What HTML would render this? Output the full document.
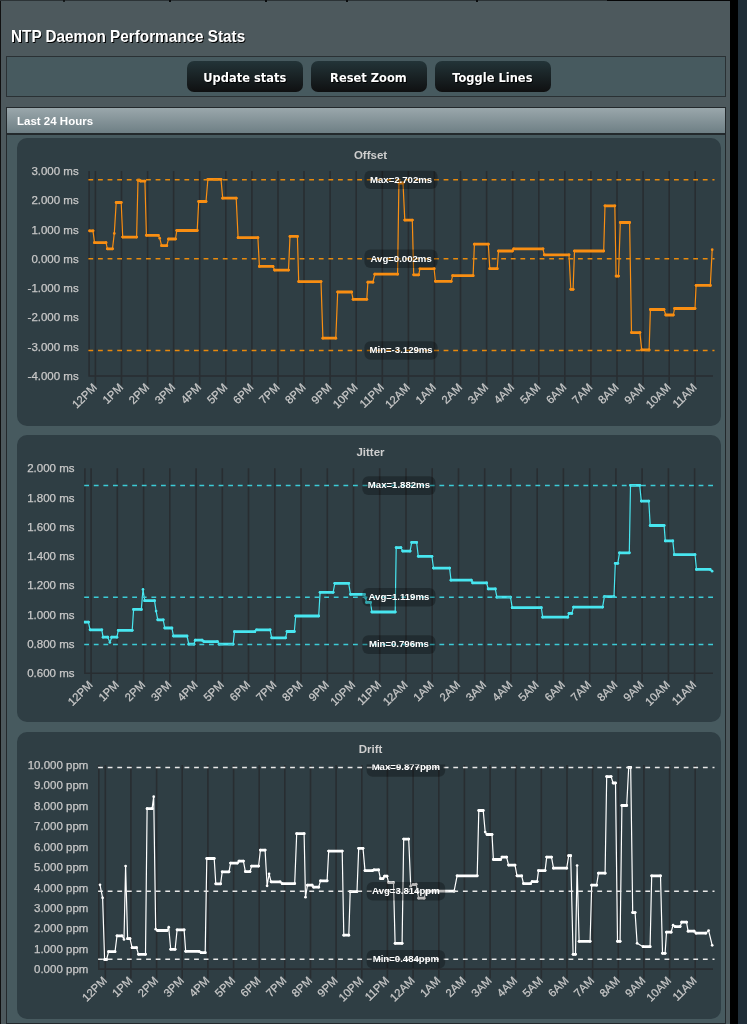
<!DOCTYPE html>
<html><head><meta charset="utf-8"><title>NTP Daemon Performance Stats</title>
<style>
html,body{margin:0;padding:0;}
body{width:747px;height:1024px;overflow:hidden;background:#1f2d37;position:relative;font-family:"Liberation Sans",Arial,sans-serif;}
.abs{position:absolute;}
.btn span{display:inline-block;transform:scaleX(0.972);}
#blk{left:730px;top:0;width:8px;height:1024px;background:#000;}
#panel{left:0;top:0;width:730px;height:1024px;background:#4d595d;border-left:1px solid #111;box-sizing:border-box;}
#topline{left:0;top:0;width:730px;height:1px;background:#2c3336;}
#title{left:11px;top:26.5px;font-size:16.9px;transform:scaleX(0.905);transform-origin:0 0;font-weight:bold;color:#fff;text-shadow:1px 1px 0 #000;white-space:nowrap;}
#bar{left:6px;top:56px;width:720px;height:41px;background:#475a5f;border:1px solid #2a3134;box-sizing:border-box;}
.btn{top:60.5px;width:116.5px;height:31px;border-radius:7px;background:linear-gradient(#233438 0%,#0f1011 100%);color:#fff;
 font-family:"DejaVu Sans",Verdana,sans-serif;font-weight:bold;font-size:11.8px;text-align:center;line-height:34.3px;text-shadow:1px 1px 0 #000;}
#hdr{left:6px;top:106.5px;width:720px;height:28.3px;box-sizing:border-box;border:1px solid #23292c;border-top-width:1.3px;border-bottom-width:2px;
 background:linear-gradient(#9aa7ab 0%,#6e7f85 100%);}
#hdrt{left:17px;top:114.5px;font-size:11.5px;font-weight:bold;color:#fff;white-space:nowrap;}
#body{left:6px;top:134.5px;width:720px;height:889px;background:#475a5f;border-left:1px solid #23292c;border-right:1px solid #23292c;border-bottom:1px solid #23292c;box-sizing:border-box;}
.cbox{left:17px;width:703.5px;background:#2f3e44;border-radius:10px;}
svg{position:absolute;left:0;top:0;}
.ct{font:bold 11.5px "Liberation Sans",Arial,sans-serif;fill:#cfcfcf;}
.yl{font:11.5px "Liberation Sans",Arial,sans-serif;fill:#c8c8c8;stroke:#c8c8c8;stroke-width:0.25px;}
.xl{font:11.3px "Liberation Sans",Arial,sans-serif;fill:#c8c8c8;stroke:#c8c8c8;stroke-width:0.25px;}
.al{font:bold 9.6px "Liberation Sans",Arial,sans-serif;fill:#fff;}
</style></head><body>
<div class="abs" id="panel"></div>
<div class="abs" id="topline"></div>
<div class="abs" style="left:607px;top:0;width:123px;height:1px;background:#050607"></div>
<div class="abs" style="left:63px;top:0;width:2px;height:2px;background:#0a0c0d;border-radius:1px"></div>
<div class="abs" style="left:169px;top:0;width:2px;height:1.5px;background:#0a0c0d"></div>
<div class="abs" style="left:265px;top:0;width:2px;height:1.5px;background:#0a0c0d"></div>
<div class="abs" style="left:346px;top:0;width:2px;height:1.5px;background:#0a0c0d"></div>
<div class="abs" style="left:476px;top:0;width:2px;height:1.5px;background:#0a0c0d"></div>
<div class="abs" id="blk"></div>
<div class="abs" id="title">NTP Daemon Performance Stats</div>
<div class="abs" id="bar"></div>
<div class="abs btn" style="left:186.5px"><span>Update stats</span></div>
<div class="abs btn" style="left:310.5px"><span>Reset Zoom</span></div>
<div class="abs btn" style="left:434.5px"><span>Toggle Lines</span></div>
<div class="abs" id="hdr"></div>
<div class="abs" id="hdrt">Last 24 Hours</div>
<div class="abs" id="body"></div>
<div class="abs cbox" style="top:138px;height:287.6px"></div>
<div class="abs cbox" style="top:435.2px;height:287px"></div>
<div class="abs cbox" style="top:732px;height:286.5px"></div>
<svg width="747" height="1024" viewBox="0 0 747 1024">
<clipPath id="clip0"><rect x="88.1" y="170.5" width="625.9" height="205.5"/></clipPath>
<text x="370.5" y="158.7" class="ct" text-anchor="middle">Offset</text>
<text x="78.7" y="380.0" class="yl" text-anchor="end">-4.000 ms</text>
<text x="78.7" y="350.7" class="yl" text-anchor="end">-3.000 ms</text>
<text x="78.7" y="321.4" class="yl" text-anchor="end">-2.000 ms</text>
<text x="78.7" y="292.1" class="yl" text-anchor="end">-1.000 ms</text>
<text x="78.7" y="262.9" class="yl" text-anchor="end">0.000 ms</text>
<text x="78.7" y="233.6" class="yl" text-anchor="end">1.000 ms</text>
<text x="78.7" y="204.3" class="yl" text-anchor="end">2.000 ms</text>
<text x="78.7" y="175.0" class="yl" text-anchor="end">3.000 ms</text>
<path d="M89.1 171.0V376.0H713.0M95.4 171.0V385.3M121.5 171.0V385.3M147.6 171.0V385.3M173.6 171.0V385.3M199.7 171.0V385.3M225.8 171.0V385.3M251.9 171.0V385.3M278.0 171.0V385.3M304.0 171.0V385.3M330.1 171.0V385.3M356.2 171.0V385.3M382.3 171.0V385.3M408.4 171.0V385.3M434.4 171.0V385.3M460.5 171.0V385.3M486.6 171.0V385.3M512.7 171.0V385.3M538.8 171.0V385.3M564.8 171.0V385.3M590.9 171.0V385.3M617.0 171.0V385.3M643.1 171.0V385.3M669.2 171.0V385.3M695.2 171.0V385.3" stroke="#282d31" stroke-width="1.6" fill="none"/>
<text x="97.7" y="388.2" class="xl" text-anchor="end" transform="rotate(-45 97.7 388.2)">12PM</text>
<text x="123.8" y="388.2" class="xl" text-anchor="end" transform="rotate(-45 123.8 388.2)">1PM</text>
<text x="149.9" y="388.2" class="xl" text-anchor="end" transform="rotate(-45 149.9 388.2)">2PM</text>
<text x="175.9" y="388.2" class="xl" text-anchor="end" transform="rotate(-45 175.9 388.2)">3PM</text>
<text x="202.0" y="388.2" class="xl" text-anchor="end" transform="rotate(-45 202.0 388.2)">4PM</text>
<text x="228.1" y="388.2" class="xl" text-anchor="end" transform="rotate(-45 228.1 388.2)">5PM</text>
<text x="254.2" y="388.2" class="xl" text-anchor="end" transform="rotate(-45 254.2 388.2)">6PM</text>
<text x="280.3" y="388.2" class="xl" text-anchor="end" transform="rotate(-45 280.3 388.2)">7PM</text>
<text x="306.3" y="388.2" class="xl" text-anchor="end" transform="rotate(-45 306.3 388.2)">8PM</text>
<text x="332.4" y="388.2" class="xl" text-anchor="end" transform="rotate(-45 332.4 388.2)">9PM</text>
<text x="358.5" y="388.2" class="xl" text-anchor="end" transform="rotate(-45 358.5 388.2)">10PM</text>
<text x="384.6" y="388.2" class="xl" text-anchor="end" transform="rotate(-45 384.6 388.2)">11PM</text>
<text x="410.7" y="388.2" class="xl" text-anchor="end" transform="rotate(-45 410.7 388.2)">12AM</text>
<text x="436.7" y="388.2" class="xl" text-anchor="end" transform="rotate(-45 436.7 388.2)">1AM</text>
<text x="462.8" y="388.2" class="xl" text-anchor="end" transform="rotate(-45 462.8 388.2)">2AM</text>
<text x="488.9" y="388.2" class="xl" text-anchor="end" transform="rotate(-45 488.9 388.2)">3AM</text>
<text x="515.0" y="388.2" class="xl" text-anchor="end" transform="rotate(-45 515.0 388.2)">4AM</text>
<text x="541.1" y="388.2" class="xl" text-anchor="end" transform="rotate(-45 541.1 388.2)">5AM</text>
<text x="567.1" y="388.2" class="xl" text-anchor="end" transform="rotate(-45 567.1 388.2)">6AM</text>
<text x="593.2" y="388.2" class="xl" text-anchor="end" transform="rotate(-45 593.2 388.2)">7AM</text>
<text x="619.3" y="388.2" class="xl" text-anchor="end" transform="rotate(-45 619.3 388.2)">8AM</text>
<text x="645.4" y="388.2" class="xl" text-anchor="end" transform="rotate(-45 645.4 388.2)">9AM</text>
<text x="671.5" y="388.2" class="xl" text-anchor="end" transform="rotate(-45 671.5 388.2)">10AM</text>
<text x="697.5" y="388.2" class="xl" text-anchor="end" transform="rotate(-45 697.5 388.2)">11AM</text>
<g clip-path="url(#clip0)">
<polyline points="89.6,230.8 93.0,230.8 94.5,242.7 106.0,242.7 107.4,248.8 112.5,248.8 114.3,233.4 116.2,202.5 121.2,202.5 122.7,237.1 136.6,237.1 138.0,180.2 139.3,180.2 140.5,181.1 144.9,181.1 146.4,235.3 158.3,235.3 159.7,238.2 161.6,245.7 166.8,245.7 168.5,239.0 175.5,239.0 176.8,230.5 197.2,230.5 198.7,201.5 206.0,201.5 207.9,179.3 221.0,179.3 222.7,198.2 236.2,198.2 238.1,237.7 257.9,237.7 259.4,266.4 273.0,266.4 274.6,270.1 288.5,270.1 290.0,236.4 297.4,236.4 298.7,281.6 321.0,281.6 322.9,338.2 335.8,338.2 337.7,292.0 351.6,292.0 353.1,299.3 366.8,299.3 367.9,282.2 372.9,282.2 374.8,274.2 397.6,274.2 398.9,183.0 403.0,183.0 404.8,220.1 412.3,220.1 413.7,274.8 418.7,274.8 420.0,268.7 434.1,268.7 435.4,281.3 451.2,281.3 452.7,275.7 473.1,275.7 474.4,244.2 488.3,244.2 489.8,268.7 497.2,268.7 498.5,251.0 512.4,251.0 513.7,248.8 543.0,248.8 544.3,254.8 569.0,254.8 570.8,289.3 573.1,289.3 574.5,251.0 603.7,251.0 605.0,205.8 614.8,205.8 616.1,276.1 618.5,276.1 620.3,222.5 629.6,222.5 631.5,332.6 639.9,332.6 641.7,349.9 649.1,349.9 650.4,309.5 664.0,309.5 665.8,315.0 673.3,315.0 674.6,308.5 695.0,308.5 696.1,285.4 710.3,285.4 712.2,249.7" fill="none" stroke="#f98e12" stroke-width="1.2" stroke-linejoin="round"/>
<path d="M89.6 230.8H93.0M94.5 242.7H106.0M107.4 248.8H112.5M116.2 202.5H121.2M122.7 237.1H136.6M138.0 180.2H139.3M140.5 181.1H144.9M146.4 235.3H158.3M161.6 245.7H166.8M168.5 239.0H175.5M176.8 230.5H197.2M198.7 201.5H206.0M207.9 179.3H221.0M222.7 198.2H236.2M238.1 237.7H257.9M259.4 266.4H273.0M274.6 270.1H288.5M290.0 236.4H297.4M298.7 281.6H321.0M322.9 338.2H335.8M337.7 292.0H351.6M353.1 299.3H366.8M367.9 282.2H372.9M374.8 274.2H397.6M398.9 183.0H403.0M404.8 220.1H412.3M413.7 274.8H418.7M420.0 268.7H434.1M435.4 281.3H451.2M452.7 275.7H473.1M474.4 244.2H488.3M489.8 268.7H497.2M498.5 251.0H512.4M513.7 248.8H543.0M544.3 254.8H569.0M570.8 289.3H573.1M574.5 251.0H603.7M605.0 205.8H614.8M616.1 276.1H618.5M620.3 222.5H629.6M631.5 332.6H639.9M641.7 349.9H649.1M650.4 309.5H664.0M665.8 315.0H673.3M674.6 308.5H695.0M696.1 285.4H710.3" fill="none" stroke="#f98e12" stroke-width="2.8" stroke-linecap="round"/>
<g fill="#f98e12"><circle cx="89.6" cy="230.8" r="1.35"/><circle cx="93.0" cy="230.8" r="1.35"/><circle cx="94.5" cy="242.7" r="1.35"/><circle cx="106.0" cy="242.7" r="1.35"/><circle cx="107.4" cy="248.8" r="1.35"/><circle cx="112.5" cy="248.8" r="1.35"/><circle cx="114.3" cy="233.4" r="1.35"/><circle cx="116.2" cy="202.5" r="1.35"/><circle cx="121.2" cy="202.5" r="1.35"/><circle cx="122.7" cy="237.1" r="1.35"/><circle cx="136.6" cy="237.1" r="1.35"/><circle cx="138.0" cy="180.2" r="1.35"/><circle cx="139.3" cy="180.2" r="1.35"/><circle cx="140.5" cy="181.1" r="1.35"/><circle cx="144.9" cy="181.1" r="1.35"/><circle cx="146.4" cy="235.3" r="1.35"/><circle cx="158.3" cy="235.3" r="1.35"/><circle cx="159.7" cy="238.2" r="1.35"/><circle cx="161.6" cy="245.7" r="1.35"/><circle cx="166.8" cy="245.7" r="1.35"/><circle cx="168.5" cy="239.0" r="1.35"/><circle cx="175.5" cy="239.0" r="1.35"/><circle cx="176.8" cy="230.5" r="1.35"/><circle cx="197.2" cy="230.5" r="1.35"/><circle cx="198.7" cy="201.5" r="1.35"/><circle cx="206.0" cy="201.5" r="1.35"/><circle cx="207.9" cy="179.3" r="1.35"/><circle cx="221.0" cy="179.3" r="1.35"/><circle cx="222.7" cy="198.2" r="1.35"/><circle cx="236.2" cy="198.2" r="1.35"/><circle cx="238.1" cy="237.7" r="1.35"/><circle cx="257.9" cy="237.7" r="1.35"/><circle cx="259.4" cy="266.4" r="1.35"/><circle cx="273.0" cy="266.4" r="1.35"/><circle cx="274.6" cy="270.1" r="1.35"/><circle cx="288.5" cy="270.1" r="1.35"/><circle cx="290.0" cy="236.4" r="1.35"/><circle cx="297.4" cy="236.4" r="1.35"/><circle cx="298.7" cy="281.6" r="1.35"/><circle cx="321.0" cy="281.6" r="1.35"/><circle cx="322.9" cy="338.2" r="1.35"/><circle cx="335.8" cy="338.2" r="1.35"/><circle cx="337.7" cy="292.0" r="1.35"/><circle cx="351.6" cy="292.0" r="1.35"/><circle cx="353.1" cy="299.3" r="1.35"/><circle cx="366.8" cy="299.3" r="1.35"/><circle cx="367.9" cy="282.2" r="1.35"/><circle cx="372.9" cy="282.2" r="1.35"/><circle cx="374.8" cy="274.2" r="1.35"/><circle cx="397.6" cy="274.2" r="1.35"/><circle cx="398.9" cy="183.0" r="1.35"/><circle cx="403.0" cy="183.0" r="1.35"/><circle cx="404.8" cy="220.1" r="1.35"/><circle cx="412.3" cy="220.1" r="1.35"/><circle cx="413.7" cy="274.8" r="1.35"/><circle cx="418.7" cy="274.8" r="1.35"/><circle cx="420.0" cy="268.7" r="1.35"/><circle cx="434.1" cy="268.7" r="1.35"/><circle cx="435.4" cy="281.3" r="1.35"/><circle cx="451.2" cy="281.3" r="1.35"/><circle cx="452.7" cy="275.7" r="1.35"/><circle cx="473.1" cy="275.7" r="1.35"/><circle cx="474.4" cy="244.2" r="1.35"/><circle cx="488.3" cy="244.2" r="1.35"/><circle cx="489.8" cy="268.7" r="1.35"/><circle cx="497.2" cy="268.7" r="1.35"/><circle cx="498.5" cy="251.0" r="1.35"/><circle cx="512.4" cy="251.0" r="1.35"/><circle cx="513.7" cy="248.8" r="1.35"/><circle cx="543.0" cy="248.8" r="1.35"/><circle cx="544.3" cy="254.8" r="1.35"/><circle cx="569.0" cy="254.8" r="1.35"/><circle cx="570.8" cy="289.3" r="1.35"/><circle cx="573.1" cy="289.3" r="1.35"/><circle cx="574.5" cy="251.0" r="1.35"/><circle cx="603.7" cy="251.0" r="1.35"/><circle cx="605.0" cy="205.8" r="1.35"/><circle cx="614.8" cy="205.8" r="1.35"/><circle cx="616.1" cy="276.1" r="1.35"/><circle cx="618.5" cy="276.1" r="1.35"/><circle cx="620.3" cy="222.5" r="1.35"/><circle cx="629.6" cy="222.5" r="1.35"/><circle cx="631.5" cy="332.6" r="1.35"/><circle cx="639.9" cy="332.6" r="1.35"/><circle cx="641.7" cy="349.9" r="1.35"/><circle cx="649.1" cy="349.9" r="1.35"/><circle cx="650.4" cy="309.5" r="1.35"/><circle cx="664.0" cy="309.5" r="1.35"/><circle cx="665.8" cy="315.0" r="1.35"/><circle cx="673.3" cy="315.0" r="1.35"/><circle cx="674.6" cy="308.5" r="1.35"/><circle cx="695.0" cy="308.5" r="1.35"/><circle cx="696.1" cy="285.4" r="1.35"/><circle cx="710.3" cy="285.4" r="1.35"/><circle cx="712.2" cy="249.7" r="1.35"/></g>
</g>
<line x1="88.4" y1="179.7" x2="714.5" y2="179.7" stroke="#e8890c" stroke-width="1.5" stroke-dasharray="4.8 4.8"/>
<line x1="88.4" y1="258.8" x2="714.5" y2="258.8" stroke="#e8890c" stroke-width="1.5" stroke-dasharray="4.8 4.8"/>
<line x1="88.4" y1="350.5" x2="714.5" y2="350.5" stroke="#e8890c" stroke-width="1.5" stroke-dasharray="4.8 4.8"/>
<g clip-path="url(#clip0)"><rect x="364.4" y="170.4" width="73.2" height="18.6" rx="6" fill="rgba(0,0,0,0.28)"/><text x="401.1" y="182.5" class="al" text-anchor="middle">Max=2.702ms</text></g>
<g clip-path="url(#clip0)"><rect x="364.4" y="249.5" width="73.2" height="18.6" rx="6" fill="rgba(0,0,0,0.28)"/><text x="401.1" y="261.6" class="al" text-anchor="middle">Avg=0.002ms</text></g>
<g clip-path="url(#clip0)"><rect x="364.4" y="341.2" width="73.2" height="18.6" rx="6" fill="rgba(0,0,0,0.28)"/><text x="401.1" y="353.3" class="al" text-anchor="middle">Min=-3.129ms</text></g>
<clipPath id="clip1"><rect x="83.9" y="467.8" width="630.1" height="205.5"/></clipPath>
<text x="370.5" y="456.0" class="ct" text-anchor="middle">Jitter</text>
<text x="74.5" y="677.3" class="yl" text-anchor="end">0.600 ms</text>
<text x="74.5" y="648.0" class="yl" text-anchor="end">0.800 ms</text>
<text x="74.5" y="618.7" class="yl" text-anchor="end">1.000 ms</text>
<text x="74.5" y="589.4" class="yl" text-anchor="end">1.200 ms</text>
<text x="74.5" y="560.2" class="yl" text-anchor="end">1.400 ms</text>
<text x="74.5" y="530.9" class="yl" text-anchor="end">1.600 ms</text>
<text x="74.5" y="501.6" class="yl" text-anchor="end">1.800 ms</text>
<text x="74.5" y="472.3" class="yl" text-anchor="end">2.000 ms</text>
<path d="M84.9 468.3V673.3H713.0M91.1 468.3V682.6M117.3 468.3V682.6M143.6 468.3V682.6M169.8 468.3V682.6M196.1 468.3V682.6M222.3 468.3V682.6M248.5 468.3V682.6M274.8 468.3V682.6M301.0 468.3V682.6M327.3 468.3V682.6M353.5 468.3V682.6M379.7 468.3V682.6M406.0 468.3V682.6M432.2 468.3V682.6M458.5 468.3V682.6M484.7 468.3V682.6M510.9 468.3V682.6M537.2 468.3V682.6M563.4 468.3V682.6M589.7 468.3V682.6M615.9 468.3V682.6M642.1 468.3V682.6M668.4 468.3V682.6M694.6 468.3V682.6" stroke="#282d31" stroke-width="1.6" fill="none"/>
<text x="93.4" y="685.5" class="xl" text-anchor="end" transform="rotate(-45 93.4 685.5)">12PM</text>
<text x="119.6" y="685.5" class="xl" text-anchor="end" transform="rotate(-45 119.6 685.5)">1PM</text>
<text x="145.9" y="685.5" class="xl" text-anchor="end" transform="rotate(-45 145.9 685.5)">2PM</text>
<text x="172.1" y="685.5" class="xl" text-anchor="end" transform="rotate(-45 172.1 685.5)">3PM</text>
<text x="198.4" y="685.5" class="xl" text-anchor="end" transform="rotate(-45 198.4 685.5)">4PM</text>
<text x="224.6" y="685.5" class="xl" text-anchor="end" transform="rotate(-45 224.6 685.5)">5PM</text>
<text x="250.8" y="685.5" class="xl" text-anchor="end" transform="rotate(-45 250.8 685.5)">6PM</text>
<text x="277.1" y="685.5" class="xl" text-anchor="end" transform="rotate(-45 277.1 685.5)">7PM</text>
<text x="303.3" y="685.5" class="xl" text-anchor="end" transform="rotate(-45 303.3 685.5)">8PM</text>
<text x="329.6" y="685.5" class="xl" text-anchor="end" transform="rotate(-45 329.6 685.5)">9PM</text>
<text x="355.8" y="685.5" class="xl" text-anchor="end" transform="rotate(-45 355.8 685.5)">10PM</text>
<text x="382.0" y="685.5" class="xl" text-anchor="end" transform="rotate(-45 382.0 685.5)">11PM</text>
<text x="408.3" y="685.5" class="xl" text-anchor="end" transform="rotate(-45 408.3 685.5)">12AM</text>
<text x="434.5" y="685.5" class="xl" text-anchor="end" transform="rotate(-45 434.5 685.5)">1AM</text>
<text x="460.8" y="685.5" class="xl" text-anchor="end" transform="rotate(-45 460.8 685.5)">2AM</text>
<text x="487.0" y="685.5" class="xl" text-anchor="end" transform="rotate(-45 487.0 685.5)">3AM</text>
<text x="513.2" y="685.5" class="xl" text-anchor="end" transform="rotate(-45 513.2 685.5)">4AM</text>
<text x="539.5" y="685.5" class="xl" text-anchor="end" transform="rotate(-45 539.5 685.5)">5AM</text>
<text x="565.7" y="685.5" class="xl" text-anchor="end" transform="rotate(-45 565.7 685.5)">6AM</text>
<text x="592.0" y="685.5" class="xl" text-anchor="end" transform="rotate(-45 592.0 685.5)">7AM</text>
<text x="618.2" y="685.5" class="xl" text-anchor="end" transform="rotate(-45 618.2 685.5)">8AM</text>
<text x="644.4" y="685.5" class="xl" text-anchor="end" transform="rotate(-45 644.4 685.5)">9AM</text>
<text x="670.7" y="685.5" class="xl" text-anchor="end" transform="rotate(-45 670.7 685.5)">10AM</text>
<text x="696.9" y="685.5" class="xl" text-anchor="end" transform="rotate(-45 696.9 685.5)">11AM</text>
<g clip-path="url(#clip1)">
<polyline points="84.9,622.1 88.4,622.1 90.1,629.8 101.8,629.8 103.1,637.2 107.8,637.2 109.9,642.5 111.7,637.2 116.9,637.2 118.3,630.3 132.2,630.3 133.6,609.4 141.3,609.4 143.0,589.4 144.7,600.7 154.5,600.7 156.1,611.1 157.8,619.8 163.2,619.8 164.8,628.0 171.9,628.0 173.5,636.0 187.0,636.0 188.8,644.2 194.0,644.2 195.2,640.2 202.1,640.2 203.8,641.6 217.4,641.6 219.1,644.2 233.1,644.2 234.5,631.7 254.8,631.7 256.6,629.8 270.1,629.8 271.7,637.8 285.6,637.8 287.0,631.5 294.3,631.5 295.7,616.0 318.7,616.0 320.1,592.3 333.1,592.3 334.8,583.3 348.7,583.3 350.5,594.3 364.4,594.3 365.6,598.1 366.6,602.4 370.5,602.4 371.9,612.0 395.2,612.0 396.2,547.6 400.9,547.6 402.7,551.1 410.1,551.1 411.7,542.4 416.6,542.4 418.3,556.3 431.9,556.3 433.5,568.1 449.6,568.1 451.0,580.2 471.3,580.2 472.7,582.9 486.6,582.9 488.2,588.9 495.3,588.9 496.9,597.2 510.5,597.2 512.2,607.7 541.3,607.7 542.7,617.2 567.8,617.2 569.0,613.4 571.8,613.4 573.6,607.1 602.6,607.1 604.4,596.7 614.0,596.7 615.3,563.3 617.8,563.3 619.5,552.8 629.3,552.8 630.5,485.3 639.7,485.3 641.3,501.1 648.8,501.1 650.2,525.5 664.1,525.5 665.3,540.9 672.8,540.9 674.3,554.7 695.0,554.7 696.5,569.4 710.1,569.4 712.1,571.2" fill="none" stroke="#48e6f0" stroke-width="1.2" stroke-linejoin="round"/>
<path d="M84.9 622.1H88.4M90.1 629.8H101.8M103.1 637.2H107.8M111.7 637.2H116.9M118.3 630.3H132.2M133.6 609.4H141.3M144.7 600.7H154.5M157.8 619.8H163.2M164.8 628.0H171.9M173.5 636.0H187.0M188.8 644.2H194.0M195.2 640.2H202.1M203.8 641.6H217.4M219.1 644.2H233.1M234.5 631.7H254.8M256.6 629.8H270.1M271.7 637.8H285.6M287.0 631.5H294.3M295.7 616.0H318.7M320.1 592.3H333.1M334.8 583.3H348.7M350.5 594.3H364.4M366.6 602.4H370.5M371.9 612.0H395.2M396.2 547.6H400.9M402.7 551.1H410.1M411.7 542.4H416.6M418.3 556.3H431.9M433.5 568.1H449.6M451.0 580.2H471.3M472.7 582.9H486.6M488.2 588.9H495.3M496.9 597.2H510.5M512.2 607.7H541.3M542.7 617.2H567.8M569.0 613.4H571.8M573.6 607.1H602.6M604.4 596.7H614.0M615.3 563.3H617.8M619.5 552.8H629.3M630.5 485.3H639.7M641.3 501.1H648.8M650.2 525.5H664.1M665.3 540.9H672.8M674.3 554.7H695.0M696.5 569.4H710.1" fill="none" stroke="#48e6f0" stroke-width="2.8" stroke-linecap="round"/>
<g fill="#48e6f0"><circle cx="84.9" cy="622.1" r="1.35"/><circle cx="88.4" cy="622.1" r="1.35"/><circle cx="90.1" cy="629.8" r="1.35"/><circle cx="101.8" cy="629.8" r="1.35"/><circle cx="103.1" cy="637.2" r="1.35"/><circle cx="107.8" cy="637.2" r="1.35"/><circle cx="109.9" cy="642.5" r="1.35"/><circle cx="111.7" cy="637.2" r="1.35"/><circle cx="116.9" cy="637.2" r="1.35"/><circle cx="118.3" cy="630.3" r="1.35"/><circle cx="132.2" cy="630.3" r="1.35"/><circle cx="133.6" cy="609.4" r="1.35"/><circle cx="141.3" cy="609.4" r="1.35"/><circle cx="143.0" cy="589.4" r="1.35"/><circle cx="144.7" cy="600.7" r="1.35"/><circle cx="154.5" cy="600.7" r="1.35"/><circle cx="156.1" cy="611.1" r="1.35"/><circle cx="157.8" cy="619.8" r="1.35"/><circle cx="163.2" cy="619.8" r="1.35"/><circle cx="164.8" cy="628.0" r="1.35"/><circle cx="171.9" cy="628.0" r="1.35"/><circle cx="173.5" cy="636.0" r="1.35"/><circle cx="187.0" cy="636.0" r="1.35"/><circle cx="188.8" cy="644.2" r="1.35"/><circle cx="194.0" cy="644.2" r="1.35"/><circle cx="195.2" cy="640.2" r="1.35"/><circle cx="202.1" cy="640.2" r="1.35"/><circle cx="203.8" cy="641.6" r="1.35"/><circle cx="217.4" cy="641.6" r="1.35"/><circle cx="219.1" cy="644.2" r="1.35"/><circle cx="233.1" cy="644.2" r="1.35"/><circle cx="234.5" cy="631.7" r="1.35"/><circle cx="254.8" cy="631.7" r="1.35"/><circle cx="256.6" cy="629.8" r="1.35"/><circle cx="270.1" cy="629.8" r="1.35"/><circle cx="271.7" cy="637.8" r="1.35"/><circle cx="285.6" cy="637.8" r="1.35"/><circle cx="287.0" cy="631.5" r="1.35"/><circle cx="294.3" cy="631.5" r="1.35"/><circle cx="295.7" cy="616.0" r="1.35"/><circle cx="318.7" cy="616.0" r="1.35"/><circle cx="320.1" cy="592.3" r="1.35"/><circle cx="333.1" cy="592.3" r="1.35"/><circle cx="334.8" cy="583.3" r="1.35"/><circle cx="348.7" cy="583.3" r="1.35"/><circle cx="350.5" cy="594.3" r="1.35"/><circle cx="364.4" cy="594.3" r="1.35"/><circle cx="365.6" cy="598.1" r="1.35"/><circle cx="366.6" cy="602.4" r="1.35"/><circle cx="370.5" cy="602.4" r="1.35"/><circle cx="371.9" cy="612.0" r="1.35"/><circle cx="395.2" cy="612.0" r="1.35"/><circle cx="396.2" cy="547.6" r="1.35"/><circle cx="400.9" cy="547.6" r="1.35"/><circle cx="402.7" cy="551.1" r="1.35"/><circle cx="410.1" cy="551.1" r="1.35"/><circle cx="411.7" cy="542.4" r="1.35"/><circle cx="416.6" cy="542.4" r="1.35"/><circle cx="418.3" cy="556.3" r="1.35"/><circle cx="431.9" cy="556.3" r="1.35"/><circle cx="433.5" cy="568.1" r="1.35"/><circle cx="449.6" cy="568.1" r="1.35"/><circle cx="451.0" cy="580.2" r="1.35"/><circle cx="471.3" cy="580.2" r="1.35"/><circle cx="472.7" cy="582.9" r="1.35"/><circle cx="486.6" cy="582.9" r="1.35"/><circle cx="488.2" cy="588.9" r="1.35"/><circle cx="495.3" cy="588.9" r="1.35"/><circle cx="496.9" cy="597.2" r="1.35"/><circle cx="510.5" cy="597.2" r="1.35"/><circle cx="512.2" cy="607.7" r="1.35"/><circle cx="541.3" cy="607.7" r="1.35"/><circle cx="542.7" cy="617.2" r="1.35"/><circle cx="567.8" cy="617.2" r="1.35"/><circle cx="569.0" cy="613.4" r="1.35"/><circle cx="571.8" cy="613.4" r="1.35"/><circle cx="573.6" cy="607.1" r="1.35"/><circle cx="602.6" cy="607.1" r="1.35"/><circle cx="604.4" cy="596.7" r="1.35"/><circle cx="614.0" cy="596.7" r="1.35"/><circle cx="615.3" cy="563.3" r="1.35"/><circle cx="617.8" cy="563.3" r="1.35"/><circle cx="619.5" cy="552.8" r="1.35"/><circle cx="629.3" cy="552.8" r="1.35"/><circle cx="630.5" cy="485.3" r="1.35"/><circle cx="639.7" cy="485.3" r="1.35"/><circle cx="641.3" cy="501.1" r="1.35"/><circle cx="648.8" cy="501.1" r="1.35"/><circle cx="650.2" cy="525.5" r="1.35"/><circle cx="664.1" cy="525.5" r="1.35"/><circle cx="665.3" cy="540.9" r="1.35"/><circle cx="672.8" cy="540.9" r="1.35"/><circle cx="674.3" cy="554.7" r="1.35"/><circle cx="695.0" cy="554.7" r="1.35"/><circle cx="696.5" cy="569.4" r="1.35"/><circle cx="710.1" cy="569.4" r="1.35"/><circle cx="712.1" cy="571.2" r="1.35"/></g>
</g>
<line x1="84.2" y1="485.6" x2="714.5" y2="485.6" stroke="#3ccbd6" stroke-width="1.5" stroke-dasharray="4.8 4.8"/>
<line x1="84.2" y1="597.3" x2="714.5" y2="597.3" stroke="#3ccbd6" stroke-width="1.5" stroke-dasharray="4.8 4.8"/>
<line x1="84.2" y1="644.6" x2="714.5" y2="644.6" stroke="#3ccbd6" stroke-width="1.5" stroke-dasharray="4.8 4.8"/>
<g clip-path="url(#clip1)"><rect x="362.3" y="476.3" width="73.2" height="18.6" rx="6" fill="rgba(0,0,0,0.28)"/><text x="398.9" y="488.4" class="al" text-anchor="middle">Max=1.882ms</text></g>
<g clip-path="url(#clip1)"><rect x="362.3" y="588.0" width="73.2" height="18.6" rx="6" fill="rgba(0,0,0,0.28)"/><text x="398.9" y="600.1" class="al" text-anchor="middle">Avg=1.119ms</text></g>
<g clip-path="url(#clip1)"><rect x="362.3" y="635.3" width="73.2" height="18.6" rx="6" fill="rgba(0,0,0,0.28)"/><text x="398.9" y="647.4" class="al" text-anchor="middle">Min=0.796ms</text></g>
<clipPath id="clip2"><rect x="97.8" y="764.5" width="616.2" height="204.6"/></clipPath>
<text x="370.5" y="752.8" class="ct" text-anchor="middle">Drift</text>
<text x="88.4" y="973.1" class="yl" text-anchor="end">0.000 ppm</text>
<text x="88.4" y="952.7" class="yl" text-anchor="end">1.000 ppm</text>
<text x="88.4" y="932.3" class="yl" text-anchor="end">2.000 ppm</text>
<text x="88.4" y="911.9" class="yl" text-anchor="end">3.000 ppm</text>
<text x="88.4" y="891.5" class="yl" text-anchor="end">4.000 ppm</text>
<text x="88.4" y="871.0" class="yl" text-anchor="end">5.000 ppm</text>
<text x="88.4" y="850.6" class="yl" text-anchor="end">6.000 ppm</text>
<text x="88.4" y="830.2" class="yl" text-anchor="end">7.000 ppm</text>
<text x="88.4" y="809.8" class="yl" text-anchor="end">8.000 ppm</text>
<text x="88.4" y="789.4" class="yl" text-anchor="end">9.000 ppm</text>
<text x="88.4" y="769.0" class="yl" text-anchor="end">10.000 ppm</text>
<path d="M98.8 765.0V969.1H713.0M105.3 765.0V978.4M130.9 765.0V978.4M156.6 765.0V978.4M182.2 765.0V978.4M207.9 765.0V978.4M233.6 765.0V978.4M259.2 765.0V978.4M284.8 765.0V978.4M310.5 765.0V978.4M336.1 765.0V978.4M361.8 765.0V978.4M387.4 765.0V978.4M413.1 765.0V978.4M438.8 765.0V978.4M464.4 765.0V978.4M490.1 765.0V978.4M515.7 765.0V978.4M541.3 765.0V978.4M567.0 765.0V978.4M592.6 765.0V978.4M618.3 765.0V978.4M643.9 765.0V978.4M669.6 765.0V978.4M695.2 765.0V978.4" stroke="#282d31" stroke-width="1.6" fill="none"/>
<text x="107.6" y="981.3" class="xl" text-anchor="end" transform="rotate(-45 107.6 981.3)">12PM</text>
<text x="133.2" y="981.3" class="xl" text-anchor="end" transform="rotate(-45 133.2 981.3)">1PM</text>
<text x="158.9" y="981.3" class="xl" text-anchor="end" transform="rotate(-45 158.9 981.3)">2PM</text>
<text x="184.6" y="981.3" class="xl" text-anchor="end" transform="rotate(-45 184.6 981.3)">3PM</text>
<text x="210.2" y="981.3" class="xl" text-anchor="end" transform="rotate(-45 210.2 981.3)">4PM</text>
<text x="235.9" y="981.3" class="xl" text-anchor="end" transform="rotate(-45 235.9 981.3)">5PM</text>
<text x="261.5" y="981.3" class="xl" text-anchor="end" transform="rotate(-45 261.5 981.3)">6PM</text>
<text x="287.1" y="981.3" class="xl" text-anchor="end" transform="rotate(-45 287.1 981.3)">7PM</text>
<text x="312.8" y="981.3" class="xl" text-anchor="end" transform="rotate(-45 312.8 981.3)">8PM</text>
<text x="338.4" y="981.3" class="xl" text-anchor="end" transform="rotate(-45 338.4 981.3)">9PM</text>
<text x="364.1" y="981.3" class="xl" text-anchor="end" transform="rotate(-45 364.1 981.3)">10PM</text>
<text x="389.8" y="981.3" class="xl" text-anchor="end" transform="rotate(-45 389.8 981.3)">11PM</text>
<text x="415.4" y="981.3" class="xl" text-anchor="end" transform="rotate(-45 415.4 981.3)">12AM</text>
<text x="441.1" y="981.3" class="xl" text-anchor="end" transform="rotate(-45 441.1 981.3)">1AM</text>
<text x="466.7" y="981.3" class="xl" text-anchor="end" transform="rotate(-45 466.7 981.3)">2AM</text>
<text x="492.4" y="981.3" class="xl" text-anchor="end" transform="rotate(-45 492.4 981.3)">3AM</text>
<text x="518.0" y="981.3" class="xl" text-anchor="end" transform="rotate(-45 518.0 981.3)">4AM</text>
<text x="543.6" y="981.3" class="xl" text-anchor="end" transform="rotate(-45 543.6 981.3)">5AM</text>
<text x="569.3" y="981.3" class="xl" text-anchor="end" transform="rotate(-45 569.3 981.3)">6AM</text>
<text x="594.9" y="981.3" class="xl" text-anchor="end" transform="rotate(-45 594.9 981.3)">7AM</text>
<text x="620.6" y="981.3" class="xl" text-anchor="end" transform="rotate(-45 620.6 981.3)">8AM</text>
<text x="646.2" y="981.3" class="xl" text-anchor="end" transform="rotate(-45 646.2 981.3)">9AM</text>
<text x="671.9" y="981.3" class="xl" text-anchor="end" transform="rotate(-45 671.9 981.3)">10AM</text>
<text x="697.5" y="981.3" class="xl" text-anchor="end" transform="rotate(-45 697.5 981.3)">11AM</text>
<g clip-path="url(#clip2)">
<polyline points="100.0,884.8 102.6,897.8 104.6,959.5 106.6,959.5 108.6,951.7 115.0,951.7 117.0,935.8 122.0,935.8 124.0,939.5 125.6,866.1 127.6,938.7 130.0,938.7 132.1,947.7 136.5,947.7 138.5,954.3 145.5,954.3 147.1,808.7 152.1,808.7 153.7,796.7 155.7,929.2 157.5,930.5 167.1,930.5 168.7,927.2 170.7,949.3 175.1,949.3 177.1,929.8 184.1,929.8 185.7,951.3 199.1,951.3 201.1,952.7 205.2,952.7 206.8,858.5 214.2,858.5 215.8,883.8 220.6,883.8 222.2,871.8 229.0,871.8 230.6,863.1 237.4,863.1 239.0,861.1 243.4,861.1 245.4,871.6 250.0,871.6 251.6,866.1 258.6,866.1 260.4,850.1 265.1,850.1 267.1,885.8 269.1,873.8 271.1,881.8 280.1,881.8 282.1,883.6 294.7,883.6 296.7,833.7 304.1,833.7 305.5,897.2 307.5,885.2 312.1,885.2 313.7,887.2 318.7,887.2 320.5,880.8 327.1,880.8 328.7,851.1 342.2,851.1 343.8,935.2 348.8,935.2 350.2,891.6 357.0,891.6 358.7,848.3 363.0,848.3 365.0,870.6 372.6,870.6 374.0,869.8 378.6,869.8 380.4,878.6 383.0,878.6 384.6,876.2 387.0,876.2 388.6,882.6 393.5,882.6 395.1,943.3 402.1,943.3 403.7,839.1 408.7,839.1 410.7,886.2 413.1,884.6 416.1,884.2 418.7,898.2 424.1,898.2 426.1,891.2 454.1,891.2 457.1,875.8 477.2,875.8 478.8,810.5 483.2,810.5 485.2,832.1 487.0,834.5 492.0,834.5 493.4,859.5 500.6,859.5 502.0,857.1 506.6,857.1 508.6,865.1 515.0,865.1 517.0,875.8 521.7,875.8 523.5,883.6 530.7,883.6 532.1,881.6 537.1,881.6 538.5,870.6 545.1,870.6 546.7,857.1 551.5,857.1 553.5,868.2 566.7,868.2 568.7,855.7 570.7,855.7 573.1,954.3 575.5,954.3 577.1,865.5 579.1,941.3 590.1,941.3 591.7,885.2 596.6,885.2 598.5,873.2 605.1,873.2 606.7,776.6 611.1,776.6 613.1,783.0 615.5,783.0 617.5,941.3 620.1,941.3 621.9,805.5 626.7,805.5 628.7,767.4 630.7,767.4 632.7,912.6 635.1,912.6 637.1,943.3 643.1,946.7 650.1,946.7 651.7,875.8 660.5,875.8 662.5,953.3 665.1,953.3 666.5,932.2 671.1,932.2 673.1,925.2 675.1,926.6 680.1,926.6 681.7,922.2 686.5,922.2 688.1,931.2 694.1,931.2 696.1,933.2 705.8,933.2 708.6,930.6 712.2,945.3" fill="none" stroke="#ffffff" stroke-width="1.2" stroke-linejoin="round"/>
<path d="M104.6 959.5H106.6M108.6 951.7H115.0M117.0 935.8H122.0M127.6 938.7H130.0M132.1 947.7H136.5M138.5 954.3H145.5M147.1 808.7H152.1M157.5 930.5H167.1M170.7 949.3H175.1M177.1 929.8H184.1M185.7 951.3H199.1M201.1 952.7H205.2M206.8 858.5H214.2M215.8 883.8H220.6M222.2 871.8H229.0M230.6 863.1H237.4M239.0 861.1H243.4M245.4 871.6H250.0M251.6 866.1H258.6M260.4 850.1H265.1M271.1 881.8H280.1M282.1 883.6H294.7M296.7 833.7H304.1M307.5 885.2H312.1M313.7 887.2H318.7M320.5 880.8H327.1M328.7 851.1H342.2M343.8 935.2H348.8M350.2 891.6H357.0M358.7 848.3H363.0M365.0 870.6H372.6M374.0 869.8H378.6M380.4 878.6H383.0M384.6 876.2H387.0M388.6 882.6H393.5M395.1 943.3H402.1M403.7 839.1H408.7M413.1 884.6H416.1M418.7 898.2H424.1M426.1 891.2H454.1M457.1 875.8H477.2M478.8 810.5H483.2M487.0 834.5H492.0M493.4 859.5H500.6M502.0 857.1H506.6M508.6 865.1H515.0M517.0 875.8H521.7M523.5 883.6H530.7M532.1 881.6H537.1M538.5 870.6H545.1M546.7 857.1H551.5M553.5 868.2H566.7M568.7 855.7H570.7M573.1 954.3H575.5M579.1 941.3H590.1M591.7 885.2H596.6M598.5 873.2H605.1M606.7 776.6H611.1M613.1 783.0H615.5M617.5 941.3H620.1M621.9 805.5H626.7M628.7 767.4H630.7M632.7 912.6H635.1M643.1 946.7H650.1M651.7 875.8H660.5M662.5 953.3H665.1M666.5 932.2H671.1M675.1 926.6H680.1M681.7 922.2H686.5M688.1 931.2H694.1M696.1 933.2H705.8" fill="none" stroke="#ffffff" stroke-width="2.8" stroke-linecap="round"/>
<g fill="#ffffff"><circle cx="100.0" cy="884.8" r="1.35"/><circle cx="102.6" cy="897.8" r="1.35"/><circle cx="104.6" cy="959.5" r="1.35"/><circle cx="106.6" cy="959.5" r="1.35"/><circle cx="108.6" cy="951.7" r="1.35"/><circle cx="115.0" cy="951.7" r="1.35"/><circle cx="117.0" cy="935.8" r="1.35"/><circle cx="122.0" cy="935.8" r="1.35"/><circle cx="124.0" cy="939.5" r="1.35"/><circle cx="125.6" cy="866.1" r="1.35"/><circle cx="127.6" cy="938.7" r="1.35"/><circle cx="130.0" cy="938.7" r="1.35"/><circle cx="132.1" cy="947.7" r="1.35"/><circle cx="136.5" cy="947.7" r="1.35"/><circle cx="138.5" cy="954.3" r="1.35"/><circle cx="145.5" cy="954.3" r="1.35"/><circle cx="147.1" cy="808.7" r="1.35"/><circle cx="152.1" cy="808.7" r="1.35"/><circle cx="153.7" cy="796.7" r="1.35"/><circle cx="155.7" cy="929.2" r="1.35"/><circle cx="157.5" cy="930.5" r="1.35"/><circle cx="167.1" cy="930.5" r="1.35"/><circle cx="168.7" cy="927.2" r="1.35"/><circle cx="170.7" cy="949.3" r="1.35"/><circle cx="175.1" cy="949.3" r="1.35"/><circle cx="177.1" cy="929.8" r="1.35"/><circle cx="184.1" cy="929.8" r="1.35"/><circle cx="185.7" cy="951.3" r="1.35"/><circle cx="199.1" cy="951.3" r="1.35"/><circle cx="201.1" cy="952.7" r="1.35"/><circle cx="205.2" cy="952.7" r="1.35"/><circle cx="206.8" cy="858.5" r="1.35"/><circle cx="214.2" cy="858.5" r="1.35"/><circle cx="215.8" cy="883.8" r="1.35"/><circle cx="220.6" cy="883.8" r="1.35"/><circle cx="222.2" cy="871.8" r="1.35"/><circle cx="229.0" cy="871.8" r="1.35"/><circle cx="230.6" cy="863.1" r="1.35"/><circle cx="237.4" cy="863.1" r="1.35"/><circle cx="239.0" cy="861.1" r="1.35"/><circle cx="243.4" cy="861.1" r="1.35"/><circle cx="245.4" cy="871.6" r="1.35"/><circle cx="250.0" cy="871.6" r="1.35"/><circle cx="251.6" cy="866.1" r="1.35"/><circle cx="258.6" cy="866.1" r="1.35"/><circle cx="260.4" cy="850.1" r="1.35"/><circle cx="265.1" cy="850.1" r="1.35"/><circle cx="267.1" cy="885.8" r="1.35"/><circle cx="269.1" cy="873.8" r="1.35"/><circle cx="271.1" cy="881.8" r="1.35"/><circle cx="280.1" cy="881.8" r="1.35"/><circle cx="282.1" cy="883.6" r="1.35"/><circle cx="294.7" cy="883.6" r="1.35"/><circle cx="296.7" cy="833.7" r="1.35"/><circle cx="304.1" cy="833.7" r="1.35"/><circle cx="305.5" cy="897.2" r="1.35"/><circle cx="307.5" cy="885.2" r="1.35"/><circle cx="312.1" cy="885.2" r="1.35"/><circle cx="313.7" cy="887.2" r="1.35"/><circle cx="318.7" cy="887.2" r="1.35"/><circle cx="320.5" cy="880.8" r="1.35"/><circle cx="327.1" cy="880.8" r="1.35"/><circle cx="328.7" cy="851.1" r="1.35"/><circle cx="342.2" cy="851.1" r="1.35"/><circle cx="343.8" cy="935.2" r="1.35"/><circle cx="348.8" cy="935.2" r="1.35"/><circle cx="350.2" cy="891.6" r="1.35"/><circle cx="357.0" cy="891.6" r="1.35"/><circle cx="358.7" cy="848.3" r="1.35"/><circle cx="363.0" cy="848.3" r="1.35"/><circle cx="365.0" cy="870.6" r="1.35"/><circle cx="372.6" cy="870.6" r="1.35"/><circle cx="374.0" cy="869.8" r="1.35"/><circle cx="378.6" cy="869.8" r="1.35"/><circle cx="380.4" cy="878.6" r="1.35"/><circle cx="383.0" cy="878.6" r="1.35"/><circle cx="384.6" cy="876.2" r="1.35"/><circle cx="387.0" cy="876.2" r="1.35"/><circle cx="388.6" cy="882.6" r="1.35"/><circle cx="393.5" cy="882.6" r="1.35"/><circle cx="395.1" cy="943.3" r="1.35"/><circle cx="402.1" cy="943.3" r="1.35"/><circle cx="403.7" cy="839.1" r="1.35"/><circle cx="408.7" cy="839.1" r="1.35"/><circle cx="410.7" cy="886.2" r="1.35"/><circle cx="413.1" cy="884.6" r="1.35"/><circle cx="416.1" cy="884.2" r="1.35"/><circle cx="418.7" cy="898.2" r="1.35"/><circle cx="424.1" cy="898.2" r="1.35"/><circle cx="426.1" cy="891.2" r="1.35"/><circle cx="454.1" cy="891.2" r="1.35"/><circle cx="457.1" cy="875.8" r="1.35"/><circle cx="477.2" cy="875.8" r="1.35"/><circle cx="478.8" cy="810.5" r="1.35"/><circle cx="483.2" cy="810.5" r="1.35"/><circle cx="485.2" cy="832.1" r="1.35"/><circle cx="487.0" cy="834.5" r="1.35"/><circle cx="492.0" cy="834.5" r="1.35"/><circle cx="493.4" cy="859.5" r="1.35"/><circle cx="500.6" cy="859.5" r="1.35"/><circle cx="502.0" cy="857.1" r="1.35"/><circle cx="506.6" cy="857.1" r="1.35"/><circle cx="508.6" cy="865.1" r="1.35"/><circle cx="515.0" cy="865.1" r="1.35"/><circle cx="517.0" cy="875.8" r="1.35"/><circle cx="521.7" cy="875.8" r="1.35"/><circle cx="523.5" cy="883.6" r="1.35"/><circle cx="530.7" cy="883.6" r="1.35"/><circle cx="532.1" cy="881.6" r="1.35"/><circle cx="537.1" cy="881.6" r="1.35"/><circle cx="538.5" cy="870.6" r="1.35"/><circle cx="545.1" cy="870.6" r="1.35"/><circle cx="546.7" cy="857.1" r="1.35"/><circle cx="551.5" cy="857.1" r="1.35"/><circle cx="553.5" cy="868.2" r="1.35"/><circle cx="566.7" cy="868.2" r="1.35"/><circle cx="568.7" cy="855.7" r="1.35"/><circle cx="570.7" cy="855.7" r="1.35"/><circle cx="573.1" cy="954.3" r="1.35"/><circle cx="575.5" cy="954.3" r="1.35"/><circle cx="577.1" cy="865.5" r="1.35"/><circle cx="579.1" cy="941.3" r="1.35"/><circle cx="590.1" cy="941.3" r="1.35"/><circle cx="591.7" cy="885.2" r="1.35"/><circle cx="596.6" cy="885.2" r="1.35"/><circle cx="598.5" cy="873.2" r="1.35"/><circle cx="605.1" cy="873.2" r="1.35"/><circle cx="606.7" cy="776.6" r="1.35"/><circle cx="611.1" cy="776.6" r="1.35"/><circle cx="613.1" cy="783.0" r="1.35"/><circle cx="615.5" cy="783.0" r="1.35"/><circle cx="617.5" cy="941.3" r="1.35"/><circle cx="620.1" cy="941.3" r="1.35"/><circle cx="621.9" cy="805.5" r="1.35"/><circle cx="626.7" cy="805.5" r="1.35"/><circle cx="628.7" cy="767.4" r="1.35"/><circle cx="630.7" cy="767.4" r="1.35"/><circle cx="632.7" cy="912.6" r="1.35"/><circle cx="635.1" cy="912.6" r="1.35"/><circle cx="637.1" cy="943.3" r="1.35"/><circle cx="643.1" cy="946.7" r="1.35"/><circle cx="650.1" cy="946.7" r="1.35"/><circle cx="651.7" cy="875.8" r="1.35"/><circle cx="660.5" cy="875.8" r="1.35"/><circle cx="662.5" cy="953.3" r="1.35"/><circle cx="665.1" cy="953.3" r="1.35"/><circle cx="666.5" cy="932.2" r="1.35"/><circle cx="671.1" cy="932.2" r="1.35"/><circle cx="673.1" cy="925.2" r="1.35"/><circle cx="675.1" cy="926.6" r="1.35"/><circle cx="680.1" cy="926.6" r="1.35"/><circle cx="681.7" cy="922.2" r="1.35"/><circle cx="686.5" cy="922.2" r="1.35"/><circle cx="688.1" cy="931.2" r="1.35"/><circle cx="694.1" cy="931.2" r="1.35"/><circle cx="696.1" cy="933.2" r="1.35"/><circle cx="705.8" cy="933.2" r="1.35"/><circle cx="708.6" cy="930.6" r="1.35"/><circle cx="712.2" cy="945.3" r="1.35"/></g>
</g>
<line x1="98.1" y1="767.5" x2="714.5" y2="767.5" stroke="#e8e8e8" stroke-width="1.5" stroke-dasharray="4.8 4.8"/>
<line x1="98.1" y1="891.3" x2="714.5" y2="891.3" stroke="#e8e8e8" stroke-width="1.5" stroke-dasharray="4.8 4.8"/>
<line x1="98.1" y1="959.2" x2="714.5" y2="959.2" stroke="#e8e8e8" stroke-width="1.5" stroke-dasharray="4.8 4.8"/>
<g clip-path="url(#clip2)"><rect x="366.6" y="758.2" width="78.6" height="18.6" rx="6" fill="rgba(0,0,0,0.28)"/><text x="405.9" y="770.3" class="al" text-anchor="middle">Max=9.877ppm</text></g>
<g clip-path="url(#clip2)"><rect x="366.6" y="882.0" width="78.6" height="18.6" rx="6" fill="rgba(0,0,0,0.28)"/><text x="405.9" y="894.1" class="al" text-anchor="middle">Avg=3.814ppm</text></g>
<g clip-path="url(#clip2)"><rect x="366.6" y="949.9" width="78.6" height="18.6" rx="6" fill="rgba(0,0,0,0.28)"/><text x="405.9" y="962.0" class="al" text-anchor="middle">Min=0.484ppm</text></g>
</svg>
</body></html>
